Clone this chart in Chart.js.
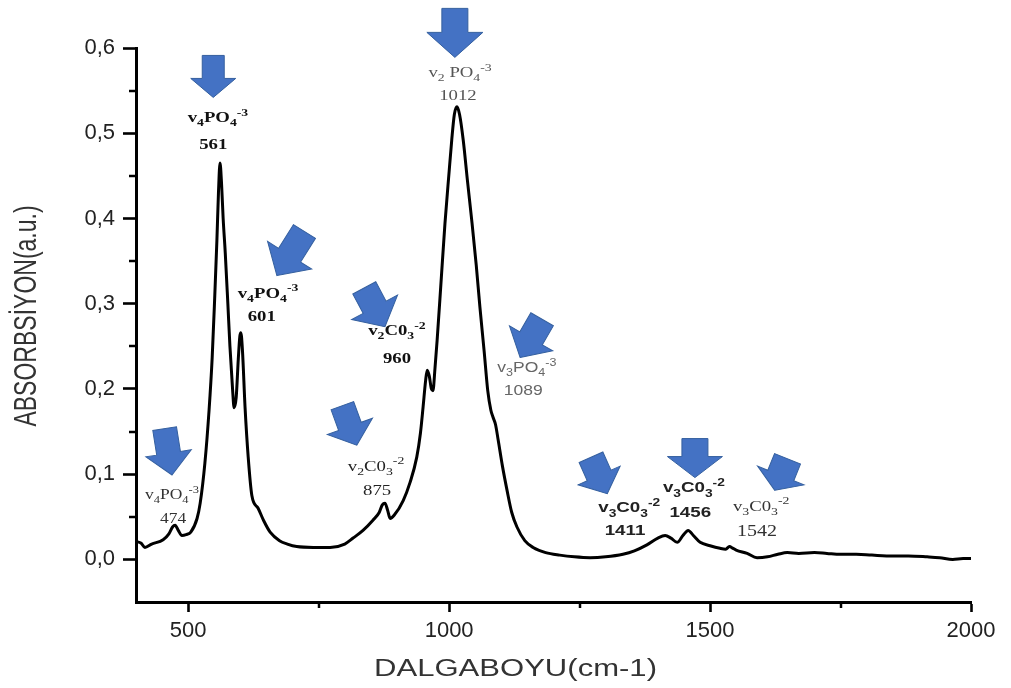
<!DOCTYPE html>
<html><head><meta charset="utf-8">
<script src="https://cdn.jsdelivr.net/npm/chart.js@4.4.0/dist/chart.umd.min.js"></script>
<style>html,body{margin:0;padding:0;background:#fff;}#wrap{width:1011px;height:688px;}</style>
</head><body><div id="wrap"><canvas id="c" width="1011" height="688"></canvas></div>
<script>
// ---- data ----
const wavenumbers = [400,410,417,430,452,463,470,475,481,488,496,505,517,523,532,540,546,551,555,558,561,564,567,571,576,580,585,588,592,596,599,601,604,609,615,622,634,645,657,675,690,708,740,772,800,816,835,854,866,872,877,882,887,895,912,925,938,945,950,955,958,962,966,969,973,977,985,992,1000,1005,1010,1015,1020,1027,1035,1044,1052,1059,1067,1074,1080,1084,1089,1094,1102,1111,1120,1130,1145,1161,1185,1212,1240,1270,1300,1333,1355,1379,1400,1414,1425,1437,1448,1458,1468,1481,1500,1519,1530,1537,1544,1550,1571,1590,1610,1630,1648,1670,1700,1724,1750,1780,1810,1851,1880,1916,1940,1965,1985,2000];
const absorbance = [0.021,0.019,0.014,0.018,0.023,0.030,0.038,0.040,0.034,0.028,0.029,0.032,0.048,0.066,0.113,0.175,0.237,0.31,0.374,0.43,0.465,0.44,0.40,0.36,0.30,0.25,0.20,0.178,0.19,0.235,0.262,0.266,0.245,0.178,0.12,0.075,0.060,0.045,0.032,0.022,0.018,0.015,0.014,0.014,0.018,0.025,0.034,0.046,0.055,0.064,0.066,0.058,0.048,0.052,0.069,0.090,0.12,0.148,0.178,0.21,0.222,0.215,0.200,0.198,0.225,0.257,0.33,0.394,0.455,0.492,0.522,0.531,0.522,0.492,0.445,0.394,0.345,0.296,0.245,0.198,0.175,0.167,0.158,0.140,0.110,0.081,0.055,0.038,0.022,0.014,0.008,0.005,0.003,0.002,0.003,0.006,0.010,0.017,0.025,0.028,0.025,0.020,0.028,0.034,0.028,0.020,0.016,0.013,0.012,0.015,0.013,0.011,0.007,0.002,0.003,0.006,0.008,0.007,0.008,0.007,0.006,0.006,0.005,0.004,0.004,0.003,0.002,0.000,0.001,0.001];
const xTickValues = [500,1000,1500,2000];
const xTickLabels = ['500','1000','1500','2000'];
const yTickValues = [0,0.1,0.2,0.3,0.4,0.5,0.6];
const yTickLabels = ['0,0','0,1','0,2','0,3','0,4','0,5','0,6'];
const xMinorTicks = [750,1250,1750];
const yMinorTicks = [0.05,0.15,0.25,0.35,0.45,0.55];
const xTitle = 'DALGABOYU(cm-1)';
const yTitle = 'ABSORBSİYON(a.u.)';

// ---- annotations (arrow tips and label centres in data units) ----
const arrows = [
  {x:469, y:0.099, angle:81, len:47, head:22, headW:46, bodyW:24},
  {x:548, y:0.542, angle:90, len:42, head:19, headW:45, bodyW:22},
  {x:670, y:0.333, angle:122, len:52, head:24, headW:52, bodyW:26},
  {x:877, y:0.273, angle:62, len:44, head:22, headW:52, bodyW:26},
  {x:823, y:0.134, angle:70, len:42, head:20, headW:48, bodyW:24},
  {x:1011, y:0.589, angle:90, len:49, head:25, headW:56, bodyW:26},
  {x:1136, y:0.237, angle:120, len:44, head:22, headW:50, bodyW:26},
  {x:1303, y:0.077, angle:66, len:40, head:20, headW:46, bodyW:26},
  {x:1471, y:0.096, angle:90, len:39, head:21, headW:55, bodyW:26},
  {x:1624, y:0.081, angle:112, len:34, head:16, headW:50, bodyW:28}
];
const SERIF = '"Liberation Serif", "Times New Roman", serif';
const SANS = '"Liberation Sans", Arial, sans-serif';
const peakLabels = [
  {x:469, y:0.076, text:'v_{4}PO_{4}^{-3}', fam:SERIF, size:14, bold:false, color:'#333'},
  {x:471, y:0.048, text:'474', fam:SERIF, size:14, bold:false, color:'#333'},
  {x:557, y:0.519, text:'v_{4}PO_{4}^{-3}', fam:SERIF, size:15, bold:true, color:'#111'},
  {x:548, y:0.487, text:'561', fam:SERIF, size:15, bold:true, color:'#111'},
  {x:653, y:0.313, text:'v_{4}PO_{4}^{-3}', fam:SERIF, size:15, bold:true, color:'#111'},
  {x:641, y:0.286, text:'601', fam:SERIF, size:15, bold:true, color:'#111'},
  {x:900, y:0.269, text:'v_{2}C0_{3}^{-2}', fam:SERIF, size:15, bold:true, color:'#111'},
  {x:900, y:0.236, text:'960', fam:SERIF, size:15, bold:true, color:'#111'},
  {x:860, y:0.110, text:'v_{2}C0_{3}^{-2}', fam:SERIF, size:15, bold:false, color:'#222'},
  {x:862, y:0.081, text:'875', fam:SERIF, size:15, bold:false, color:'#222'},
  {x:1021, y:0.572, text:'v_{2} PO_{4}^{-3}', fam:SERIF, size:15, bold:false, color:'#555'},
  {x:1017, y:0.545, text:'1012', fam:SERIF, size:15, bold:false, color:'#555'},
  {x:1149, y:0.225, text:'v_{3}PO_{4}^{-3}', fam:SANS, size:14, bold:false, color:'#666'},
  {x:1142, y:0.198, text:'1089', fam:SANS, size:14, bold:false, color:'#666'},
  {x:1345, y:0.061, text:'v_{3}C0_{3}^{-2}', fam:SANS, size:15, bold:true, color:'#222'},
  {x:1337, y:0.034, text:'1411', fam:SANS, size:15, bold:true, color:'#222'},
  {x:1469, y:0.0845, text:'v_{3}C0_{3}^{-2}', fam:SANS, size:15, bold:true, color:'#222'},
  {x:1462, y:0.055, text:'1456', fam:SANS, size:15, bold:true, color:'#222'},
  {x:1598, y:0.063, text:'v_{3}C0_{3}^{-2}', fam:SERIF, size:15, bold:false, color:'#333'},
  {x:1590, y:0.034, text:'1542', fam:SERIF, size:16, bold:false, color:'#333'}
];
const TEXT_STRETCH = 1.25;

function parseRich(str){
  const out=[]; const re=/_\{([^}]*)\}|\^\{([^}]*)\}|([^_^]+)/g; let m;
  while((m=re.exec(str))){ if(m[1]!==undefined) out.push({t:m[1],k:'sub'}); else if(m[2]!==undefined) out.push({t:m[2],k:'sup'}); else out.push({t:m[3],k:'n'}); }
  return out;
}
function drawRich(ctx, l, cx, cy){
  const segs=parseRich(l.text); const w0=l.bold?'bold ':'';
  const fontFor=k=> w0+(k==='n'?l.size:Math.round(l.size*0.72))+'px '+l.fam;
  ctx.save(); ctx.textBaseline='alphabetic'; ctx.fillStyle=l.color;
  let tw=0; segs.forEach(s=>{ctx.font=fontFor(s.k); s.w=ctx.measureText(s.t).width; tw+=s.w;});
  ctx.translate(cx, cy); ctx.scale(TEXT_STRETCH,1);
  let xx=-tw/2; const base=l.size*0.33;
  segs.forEach(s=>{ ctx.font=fontFor(s.k); const dy=s.k==='sub'?l.size*0.28:(s.k==='sup'?-l.size*0.42:0); ctx.fillText(s.t, xx, base+dy); xx+=s.w; });
  ctx.restore();
}
function drawArrow(ctx, tx, ty, a){
  const ang=a.angle*Math.PI/180, L=a.len, H=a.head, HW=a.headW/2, BW=a.bodyW/2;
  ctx.save(); ctx.translate(tx,ty); ctx.rotate(ang);
  ctx.beginPath(); ctx.moveTo(0,0); ctx.lineTo(-H,-HW); ctx.lineTo(-H,-BW); ctx.lineTo(-L,-BW); ctx.lineTo(-L,BW); ctx.lineTo(-H,BW); ctx.lineTo(-H,HW); ctx.closePath();
  ctx.fillStyle='#4472C4'; ctx.fill(); ctx.strokeStyle='#35609f'; ctx.lineWidth=1; ctx.stroke();
  ctx.restore();
}

const annotPlugin = {
  id:'annot',
  afterDraw(chart){
    const {ctx, chartArea:ca, scales:{x,y}} = chart;
    ctx.save(); ctx.strokeStyle='#000'; ctx.lineWidth=2.5;
    yMinorTicks.forEach(v=>{const py=Math.round(y.getPixelForValue(v)); ctx.beginPath(); ctx.moveTo(ca.left-7,py); ctx.lineTo(ca.left,py); ctx.stroke();});
    xMinorTicks.forEach(v=>{const px=Math.round(x.getPixelForValue(v)); ctx.beginPath(); ctx.moveTo(px,ca.bottom); ctx.lineTo(px,ca.bottom+6); ctx.stroke();});
    ctx.restore();
    arrows.forEach(a=>drawArrow(ctx, x.getPixelForValue(a.x), y.getPixelForValue(a.y), a));
    peakLabels.forEach(l=>drawRich(ctx, l, x.getPixelForValue(l.x), y.getPixelForValue(l.y)));
    // axis titles
    ctx.save(); ctx.fillStyle='#333'; ctx.font='23px '+SANS; ctx.textAlign='center'; ctx.textBaseline='middle';
    ctx.translate((ca.left+ca.right)/2-38, ca.bottom+68); ctx.scale(1.35,1); ctx.fillText(xTitle,0,0);
    ctx.restore();
    ctx.save(); ctx.fillStyle='#333'; ctx.font='23px '+SANS; ctx.textAlign='center'; ctx.textBaseline='middle';
    ctx.translate(27, (ca.top+ca.bottom)/2-9); ctx.scale(1.35,1); ctx.rotate(-Math.PI/2); ctx.fillText(yTitle,0,0);
    ctx.restore();
  }
};

new Chart(document.getElementById('c'), {
  type:'line',
  data:{datasets:[{
    data: wavenumbers.map((w,i)=>({x:w, y:absorbance[i]})),
    borderColor:'#000', borderWidth:3, pointRadius:0, fill:false, cubicInterpolationMode:'monotone'
  }]},
  options:{
    responsive:false, animation:false, devicePixelRatio:1,
    layout:{padding:{left:0, top:48, right:40, bottom:0}},
    plugins:{legend:{display:false}, tooltip:{enabled:false}},
    scales:{
      x:{type:'linear', min:400, max:2000,
         afterBuildTicks:s=>{s.ticks=xTickValues.map(v=>({value:v}));},
         afterFit:s=>{s.height=86;},
         grid:{drawOnChartArea:false, drawTicks:true, tickLength:10, tickColor:'#000', tickWidth:2.6},
         border:{display:true, color:'#000', width:3},
         ticks:{font:{family:SANS, size:22}, color:'#222', padding:6, maxRotation:0, autoSkip:false,
                callback:(v,i)=>xTickLabels[i]}},
      y:{type:'linear', min:-0.05, max:0.6,
         afterBuildTicks:s=>{s.ticks=yTickValues.map(v=>({value:v}));},
         afterFit:s=>{s.width=136;},
         grid:{drawOnChartArea:false, drawTicks:true, tickLength:13, tickColor:'#000', tickWidth:2.6},
         border:{display:true, color:'#000', width:3},
         ticks:{font:{family:SANS, size:22}, color:'#222', padding:8, autoSkip:false,
                callback:(v,i)=>yTickLabels[i]}}
    }
  },
  plugins:[annotPlugin]
});
</script></body></html>
